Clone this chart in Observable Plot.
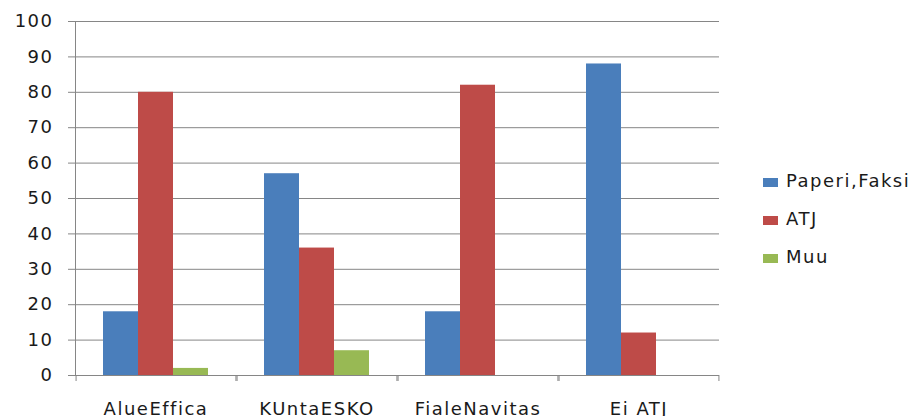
<!DOCTYPE html>
<html>
<head>
<meta charset="utf-8">
<script src="https://cdn.jsdelivr.net/npm/d3@7"></script>
<script src="https://cdn.jsdelivr.net/npm/@observablehq/plot@0.6"></script>
<style>
  html, body { margin: 0; padding: 0; background: #fff; }
  #wrap { position: relative; width: 918px; height: 416px; overflow: hidden; font-family: "DejaVu Sans", sans-serif; }
  #chart svg text { fill: #1a1a1a; letter-spacing: 1.5px; }
  #legend { position: absolute; left: 763px; top: 0; }
  .item { position: absolute; left: 0; white-space: nowrap; font-size: 18px; letter-spacing: 1.5px; color: #1a1a1a; line-height: normal; }
  .sw { display: inline-block; width: 15px; height: 9px; margin-right: 8px; vertical-align: baseline; }
</style>
</head>
<body>
<div id="wrap">
  <div id="chart"></div>
  <div id="legend"></div>
</div>
<script>
const categories = ["AlueEffica", "KUntaESKO", "FialeNavitas", "Ei ATJ"];
const series = ["Paperi,Faksi", "ATJ", "Muu"];
const paperiFaksi = [18, 57, 18, 88];
const atj = [80, 36, 82, 12];
const muu = [2, 7, 0, 0];
const colors = ["#4a7ebb", "#be4b48", "#98b954"];
const yTicks = [0, 10, 20, 30, 40, 50, 60, 70, 80, 90, 100];

const valuesBySeries = [paperiFaksi, atj, muu];
const rows = [];
categories.forEach((c, i) => {
  series.forEach((s, j) => rows.push({category: c, series: s, value: valuesBySeries[j][i]}));
});

const W = 918, H = 416;
const mL = 73, mR = 198, mT = 21, mB = 41;
const outerPad = 0.75;
const facetW = (W - mL - mR) / categories.length;
const step = facetW / (series.length + 2 * outerPad);
const edgeOffset = (outerPad + 0.5) * step;
const gray = "#868686";

const chart = Plot.plot({
  width: W,
  height: H,
  marginLeft: mL,
  marginRight: mR,
  marginTop: mT,
  marginBottom: mB,
  style: {fontFamily: "DejaVu Sans", fontSize: "18px", color: gray, background: "#fff"},
  facet: {data: rows, x: "category"},
  fx: {domain: categories, padding: 0, axis: "bottom", label: null, tickSize: 0, tickPadding: 27},
  x: {domain: series, paddingInner: 0, paddingOuter: outerPad, axis: null},
  y: {domain: [0, 100], ticks: yTicks, tickSize: 7, tickPadding: 15, label: null, line: true},
  color: {domain: series, range: colors},
  marks: [
    Plot.ruleY(yTicks, {stroke: gray, strokeWidth: 1}),
    Plot.barY(rows, {x: "series", y: "value", fill: "series"}),
    Plot.ruleX([series[0]], {x: d => d, y1: 0, y2: 0, insetBottom: -6, dx: -edgeOffset, stroke: gray}),
    Plot.ruleX([series[series.length - 1]], {x: d => d, y1: 0, y2: 0, insetBottom: -6, dx: edgeOffset, stroke: gray})
  ]
});
document.getElementById("chart").appendChild(chart);

const legend = document.getElementById("legend");
series.forEach((s, i) => {
  const item = document.createElement("div");
  item.className = "item";
  item.style.top = (170 + 38.2 * i) + "px";
  const sw = document.createElement("span");
  sw.className = "sw";
  sw.style.background = colors[i];
  item.appendChild(sw);
  item.appendChild(document.createTextNode(s));
  legend.appendChild(item);
});
</script>
</body>
</html>
